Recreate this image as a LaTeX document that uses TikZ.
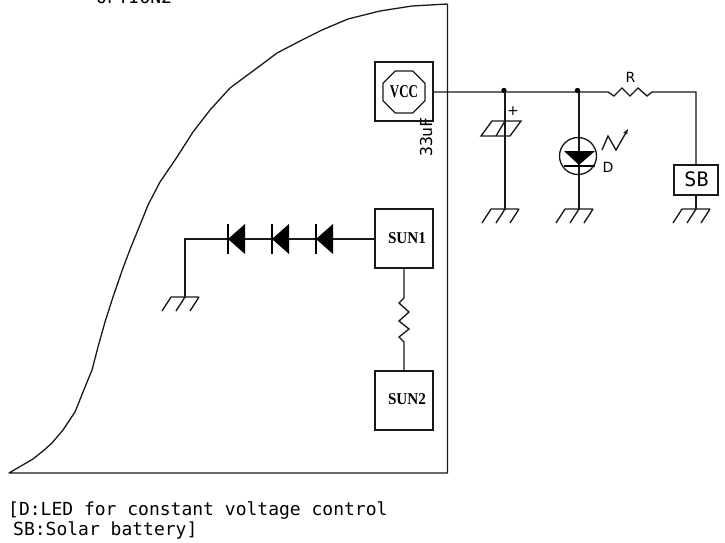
\documentclass[tikz,border=0pt]{standalone}
\usepackage{fontspec}
\usetikzlibrary{shapes.geometric,arrows.meta}
\setmainfont{Liberation Serif}
\newfontfamily\monof{DejaVu Sans Mono}
\newfontfamily\sansf{DejaVu Sans}
\tikzset{
  wire/.style={line width=1.35pt,black!90},
  chipbox/.style={draw,line width=1.35pt,black!90,rectangle,minimum width=58pt,minimum height=59pt,inner sep=0pt},
  serif/.style={font=\fontsize{16.5}{16.5}\selectfont\bfseries,inner sep=0pt,xscale=0.92},
  mono/.style={font=\monof\fontsize{18}{18}\selectfont,inner sep=0pt,anchor=base west},
  lab/.style={font=\sansf\fontsize{14}{14}\selectfont,inner sep=0pt},
  gnd/.pic={\draw[wire] (-14,0) -- (14,0) (-14,0) -- (-23,14) (0,0) -- (-9,14) (14,0) -- (5,14);},
  diode/.pic={\fill (0,0) -- (17,-15) -- (17,15) -- cycle; \draw[line width=2.6pt] (0,-15) -- (0,15);}
}
\begin{document}
\begin{tikzpicture}[x=1pt,y=-1pt]
\useasboundingbox (0,0) rectangle (725,542);
% board outline
\draw[line width=1.3pt,black!90,line join=round] (447.5,4) -- (447.5,473) -- (9,473)
  -- (33,459) -- (43,451) -- (52,443) -- (63,430) -- (75,412) -- (83,392) -- (92,370) -- (98,347) -- (105,322) -- (113,297) -- (123,268) -- (131,247) -- (140,225) -- (148,205) -- (160,182) -- (177,157) -- (193,132) -- (210,110) -- (230,88) -- (257,68) -- (277,53) -- (300,41) -- (322,30) -- (348,19) -- (380,11) -- (412,6) -- (447.5,4);
% boxes
\node[chipbox] (vccbox) at (404,91.5) {};
\node[draw,wire,regular polygon,regular polygon sides=8,minimum size=45.5pt,inner sep=0pt] (vcc) at (404,92) {};
\node[font=\fontsize{18}{18}\selectfont\bfseries,inner sep=0pt,xscale=0.72] (vcct) at (404,92) {VCC};
\node[chipbox] (sun1) at (404,238.5) {};
\node[chipbox] (sun2) at (404,400.5) {};
\node[serif] (sun1t) at (407,238) {SUN1};
\node[serif] (sun2t) at (407,399) {SUN2};
\node[draw,wire,rectangle,minimum width=44pt,minimum height=30pt,inner sep=0pt] (sb) at (696,180) {};
\node[font=\monof\fontsize{20}{20}\selectfont,inner sep=0pt] (sbt) at (696.5,179.5) {SB};
% coordinates
\coordinate (j1) at (505,92);
\coordinate (j2) at (579,92);
\coordinate (rl) at (608,92);
\coordinate (rr) at (652,92);
\coordinate (corner) at (696,92);
\coordinate (g1) at (505,209);
\coordinate (g2) at (579,209);
\coordinate (g3) at (696,209);
\coordinate (g4) at (185,297);
\coordinate (c4) at (185,239);
\coordinate (r2t) at (404,298);
\coordinate (r2b) at (404,342);
% top wire and resistor R
\draw[wire] (vccbox.east |- j1) -- (j1) -- (j2) -- (rl) -- (614,96) -- (622,88) -- (630,96) -- (638,88) -- (647,96) -- (rr) -- (corner) -- (sb.north);
\draw[wire] (sb.south) -- (g3);
\fill (j1) ++(-1,-1.5) circle (2.7pt);
\fill (j2) ++(-1.5,-1.5) circle (2.7pt);
% capacitor
\draw[wire] (j1) -- (g1);
\draw[wire,line join=miter] (492,121) -- (521,121) -- (510,136) -- (481,136) -- cycle;
\draw[wire] (505,121) -- (496,136);
\node[lab] (plus) at (513,111) {+};
% LED
\draw[wire] (j2) -- (g2);
\node[draw,wire,circle,minimum size=37pt,inner sep=0pt] (led) at (578,156) {};
\fill (564,151) -- (595,151) -- (579,165) -- cycle;
\draw[line width=2pt] (564,166) -- (595,166);
\draw[wire,-{Stealth[length=6pt,width=4.5pt,open]}] (602,150) -- (608,136) -- (616,150) -- (628,129);
% grounds
\pic at (g1) {gnd};
\pic at (g2) {gnd};
\pic at (g3) {gnd};
\pic at (g4) {gnd};
% diode string
\draw[wire] (sun1.west |- c4) -- (c4) -- (g4);
\pic at (228,239) {diode};
\pic at (272,239) {diode};
\pic at (316,239) {diode};
% lower resistor
\draw[wire] (sun1.south) -- (r2t) -- (399,303) -- (409,312) -- (399,321) -- (409,329) -- (399,337) -- (r2b) -- (sun2.north);
% labels
\node[lab] (rlab) at (630.5,77) {R};
\node[lab] (dlab) at (608,167) {D};
\node[font=\monof\fontsize{16.5}{16.5}\selectfont,inner sep=0pt,rotate=90] (cap) at (426,137) {33uF};
\node[mono] (opt) at (96,3) {OPTION2};
\node[mono] (note1) at (8,515) {[D:LED for constant voltage control};
\node[mono] (note2) at (13,535) {SB:Solar battery]};
\end{tikzpicture}
\end{document}
